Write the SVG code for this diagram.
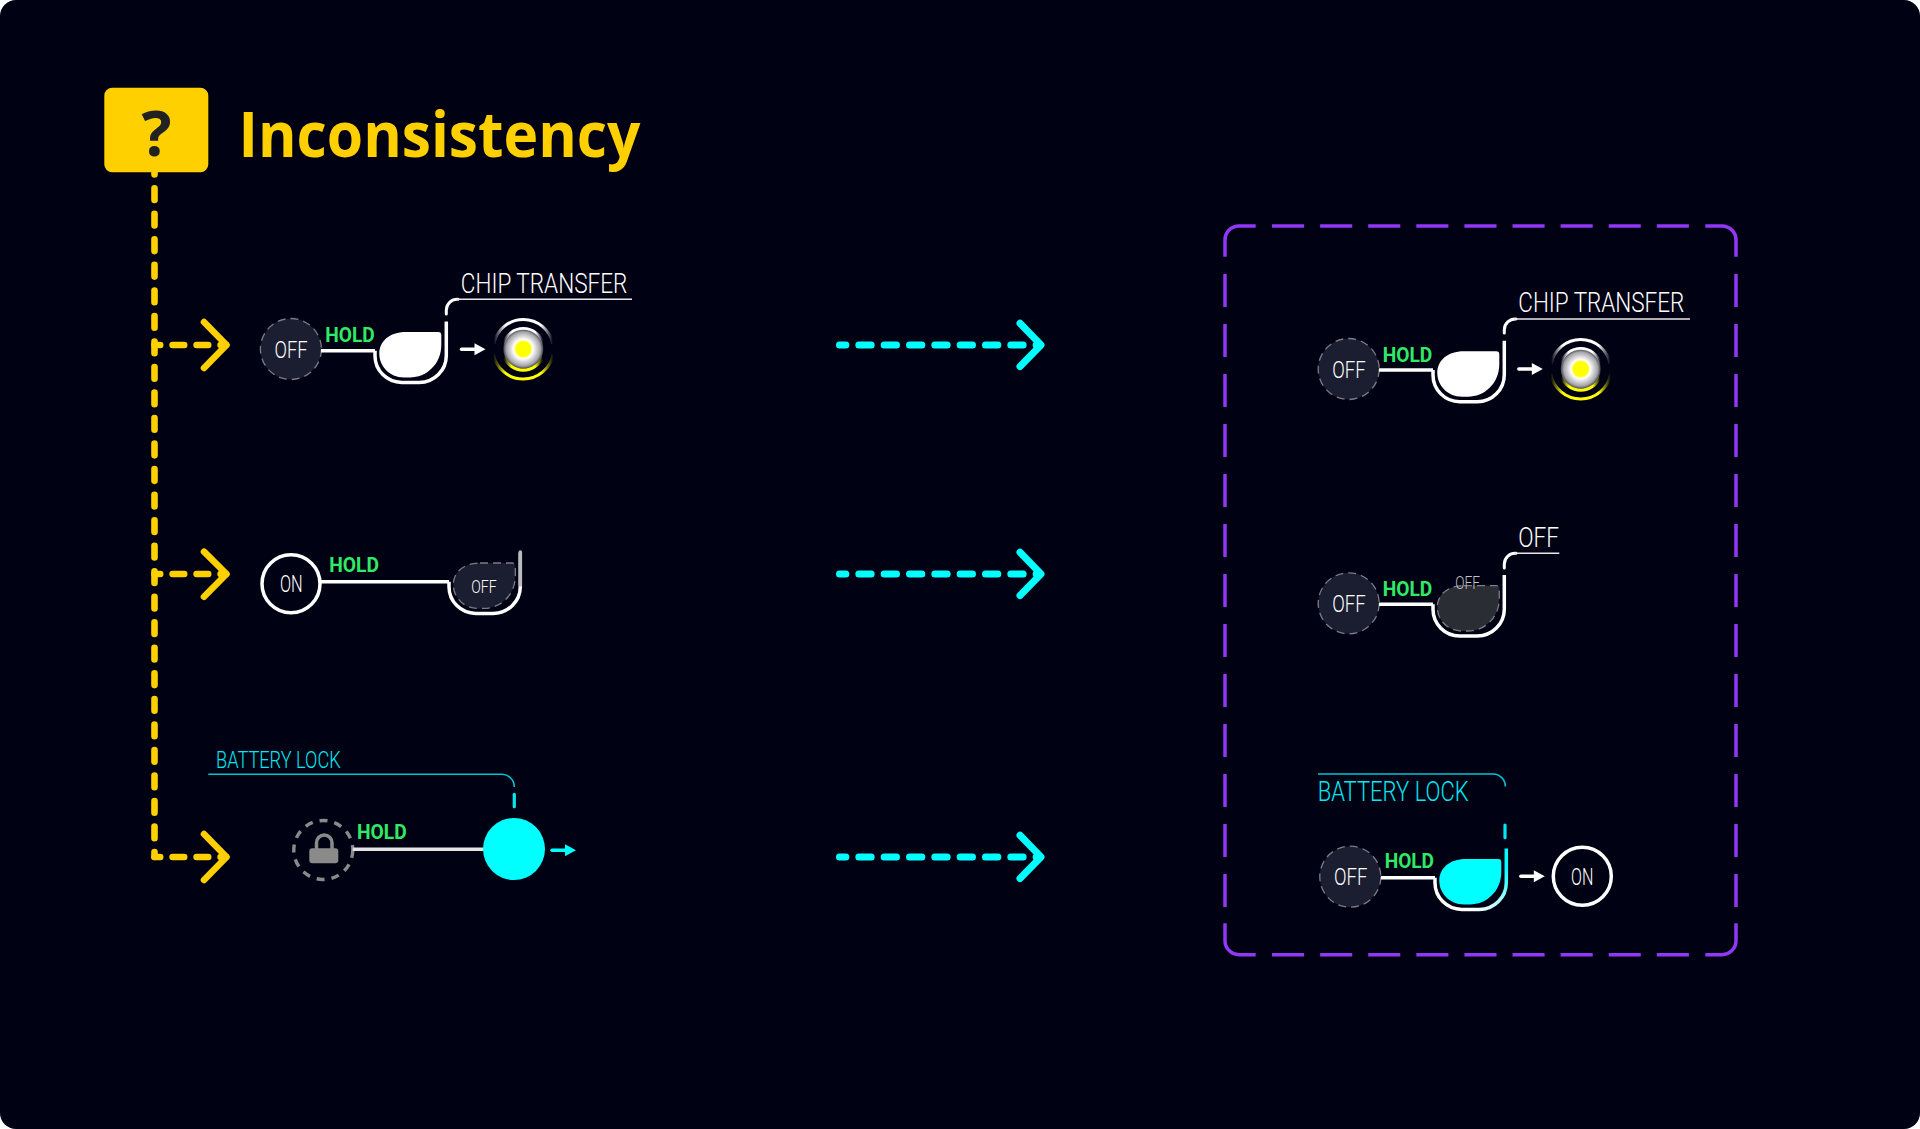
<svg xmlns="http://www.w3.org/2000/svg" width="1920" height="1129" viewBox="0 0 1920 1129">
<style>
text{font-family:Roboto,"Liberation Sans",sans-serif}
.lbl{font-weight:300;fill:#fff}
.hold{font-weight:700;font-size:20px;fill:#30ea66}
.cy{fill:#00e8f0}
.y{fill:none;stroke:#ffd000;stroke-width:6.6;stroke-linecap:round;stroke-linejoin:round}
.yd{stroke-dasharray:11.6 12.4;stroke-dashoffset:5.9}
.c{fill:none;stroke:#00ffff;stroke-width:7;stroke-linecap:round;stroke-linejoin:round}
.cd{stroke-dasharray:12.33 13;stroke-dashoffset:6}
.pb{fill:none;stroke:#9137f5;stroke-width:3.5}
.pd1{stroke-dasharray:32.1 16}
.pd2{stroke-dasharray:33 17}
.w{fill:none;stroke:#fff;stroke-width:3.5}
.wt{fill:none;stroke:#e8e8e8;stroke-width:1.6}
.curve{fill:none;stroke:#fff;stroke-width:3;stroke-linecap:round}
.ct{fill:none;stroke:#00c4d0;stroke-width:1.6}
.cdash{fill:none;stroke:#00e8f0;stroke-width:3.2;stroke-linecap:round}
.off{fill:#1a1e30;stroke:#7c7c86;stroke-width:1.3;stroke-dasharray:8 5}
.on{fill:#010114;stroke:#fff;stroke-width:3.5}
</style>
<defs>
<path id="u" d="M0 0V5A26.7 26.7 0 0 0 26.7 31.7H44.3A27 27 0 0 0 71.3 4.7V-29.3"/>
<path id="th" d="M31 -18.7H63.3a3 3 0 0 1 3 3V-6C66.3 14 51 26.7 35 26.7H29C14 26.7 4.3 15 4.3 3C4.3 -9 14 -18.7 31 -18.7Z"/>
<g id="arw"><path d="M1.5 0H15" fill="none" stroke="currentColor" stroke-width="3.4" stroke-linecap="round"/><path d="M14.5 -6L25.5 0L14.5 6Z" fill="currentColor"/></g>
<radialGradient id="core"><stop offset="0.36" stop-color="#ff0"/><stop offset="0.48" stop-color="#fff"/><stop offset="0.85" stop-color="#a4a4aa"/><stop offset="1" stop-color="#40404a"/></radialGradient>
<linearGradient id="fw" x1="0" x2="1" y1="0" y2="0"><stop offset="0" stop-color="#fff" stop-opacity="0"/><stop offset="0.2" stop-color="#fff"/><stop offset="0.8" stop-color="#fff"/><stop offset="1" stop-color="#fff" stop-opacity="0"/></linearGradient>
<linearGradient id="fy" x1="0" x2="1" y1="0" y2="0"><stop offset="0" stop-color="#ff0" stop-opacity="0"/><stop offset="0.2" stop-color="#ff0"/><stop offset="0.8" stop-color="#ff0"/><stop offset="1" stop-color="#ff0" stop-opacity="0"/></linearGradient>
<linearGradient id="uc" gradientUnits="userSpaceOnUse" x1="35" y1="32" x2="72" y2="-10"><stop offset="0" stop-color="#fff"/><stop offset="0.5" stop-color="#aff"/><stop offset="1" stop-color="#0ff"/></linearGradient>
<g id="led">
<circle r="20" fill="url(#core)"/>
<path d="M-20 -5A20.6 20.6 0 0 1 20 -5" fill="none" stroke="url(#fw)" stroke-width="2.6"/>
<path d="M-19.5 8A21 21 0 0 0 19.5 8" fill="none" stroke="url(#fy)" stroke-width="3"/>
<path d="M-29.5 -5A30 30 0 0 1 29.5 -5" fill="none" stroke="url(#fw)" stroke-width="3"/>
<path d="M-30 5A30.5 30.5 0 0 0 30 5" fill="none" stroke="url(#fy)" stroke-width="3"/>
</g>
</defs>
<rect width="1920" height="1129" fill="#fff"/>
<rect id="background" width="1920" height="1129" rx="16" fill="#010114"/>

<g id="connectors">
<path class="y" stroke-dasharray="11.7 13.83" d="M154.5 162.8V857"/>
<path class="y yd" d="M154.5 345H226"/><path class="y" d="M204 322L226.5 345L204 368"/>
<path class="y yd" d="M154.5 574H226"/><path class="y" d="M204 551.7L226.5 574L204 596.7"/>
<path class="y yd" d="M154.5 857H226"/><path class="y" d="M204 834L226.5 857L204 880"/>
<path class="c cd" d="M839.5 345H1040"/><path class="c" d="M1020 323.3L1041 345L1020 366.5"/>
<path class="c cd" d="M839.5 574H1040"/><path class="c" d="M1020 552.3L1041 574L1020 595.5"/>
<path class="c cd" d="M839.5 857H1040"/><path class="c" d="M1020 835.3L1041 857L1020 878.5"/>
</g>

<g id="header">
<rect x="104.3" y="87.7" width="104" height="84.6" rx="8" fill="#ffd000"/>
<text x="156.5" y="156" font-size="63" font-weight="700" text-anchor="middle" fill="#222" style="font-family:'Open Sans',sans-serif">?</text>
<text x="238.5" y="157" font-size="63" font-weight="700" fill="#ffd000" textLength="402" lengthAdjust="spacingAndGlyphs" style="font-family:'Open Sans',sans-serif">Inconsistency</text>
</g>

<g id="frame">
<path class="pb" d="M1225 256.7V240A14 14 0 0 1 1239 226H1255.7"/>
<path class="pb" d="M1705.3 226H1722A14 14 0 0 1 1736 240V256.7"/>
<path class="pb" d="M1225 923.3V940.7A14 14 0 0 0 1239 954.7H1255.7"/>
<path class="pb" d="M1705.3 954.7H1722A14 14 0 0 0 1736 940.7V923.3"/>
<path class="pb pd1" d="M1272 226H1690"/>
<path class="pb pd1" d="M1272 954.7H1690"/>
<path class="pb pd2" d="M1225 274V907"/>
<path class="pb pd2" d="M1736 274V907"/>
</g>

<g id="left-chip">
<circle class="off" cx="290.9" cy="349" r="30.5"/>
<text class="lbl" x="274.5" y="357.7" font-size="23.5" textLength="33" lengthAdjust="spacingAndGlyphs">OFF</text>
<text class="hold" x="325.3" y="341.7" textLength="49.5" lengthAdjust="spacingAndGlyphs">HOLD</text>
<path class="w" d="M321 350.7H375"/>
<g transform="translate(375 350.7)"><use href="#u" class="w"/><use href="#th" fill="#fff"/></g>
<path class="curve" d="M446.3 314V310A11 11 0 0 1 458 299.3"/>
<path class="wt" d="M456 299.3H632"/>
<text class="lbl" x="460.8" y="292.7" font-size="27" textLength="166.5" lengthAdjust="spacingAndGlyphs">CHIP TRANSFER</text>
<use href="#arw" x="460" y="349.3" color="#fff"/>
<use href="#led" x="523.3" y="349"/>
</g>

<g id="left-off">
<circle class="on" cx="291" cy="583.7" r="29"/>
<text class="lbl" x="280" y="592.3" font-size="23.5" textLength="22.7" lengthAdjust="spacingAndGlyphs">ON</text>
<text class="hold" x="329.3" y="572.3" textLength="49.7" lengthAdjust="spacingAndGlyphs">HOLD</text>
<path class="w" d="M320 581.7H449"/>
<g transform="translate(449 581.7)"><use href="#u" class="w"/><use href="#th" class="off"/></g>
<path d="M520.3 552V585" fill="none" stroke="#bbb" stroke-width="3.5" stroke-linecap="round"/>
<text class="lbl" x="471.3" y="592.7" font-size="18" textLength="25.4" lengthAdjust="spacingAndGlyphs">OFF</text>
</g>

<g id="left-lock">
<circle cx="323.3" cy="850" r="29.5" fill="none" stroke="#8a8a8a" stroke-width="3.4" stroke-dasharray="8 7"/>
<rect x="309.3" y="848.3" width="29" height="15" rx="3" fill="#8a8a8a"/>
<path d="M316.5 849V843A7.7 8 0 0 1 332 843V849" fill="none" stroke="#8a8a8a" stroke-width="3.5"/>
<text class="hold" x="357" y="839.3" textLength="49.7" lengthAdjust="spacingAndGlyphs">HOLD</text>
<path d="M352.7 849.3H490" fill="none" stroke="#e4e4e4" stroke-width="3.5"/>
<circle cx="514" cy="849" r="31" fill="#0ff"/>
<use href="#arw" x="550.5" y="850.3" color="#0ff"/>
<path class="ct" d="M208.3 774.3H501.7A12.6 12.6 0 0 1 514.3 786.9"/>
<path class="cdash" d="M514.3 794.3V806.7"/>
<text class="lbl cy" x="216" y="768.3" font-size="23.5" textLength="124.7" lengthAdjust="spacingAndGlyphs">BATTERY LOCK</text>
</g>

<g id="right-chip">
<circle class="off" cx="1348.7" cy="369" r="30.5"/>
<text class="lbl" x="1332.3" y="377.7" font-size="23.5" textLength="33.4" lengthAdjust="spacingAndGlyphs">OFF</text>
<text class="hold" x="1382.7" y="361.7" textLength="49.6" lengthAdjust="spacingAndGlyphs">HOLD</text>
<path class="w" d="M1379 370H1433"/>
<g transform="translate(1433 370)"><use href="#u" class="w"/><use href="#th" fill="#fff"/></g>
<path class="curve" d="M1504.3 333V330A11 11 0 0 1 1516 319"/>
<path class="wt" d="M1514 319H1690"/>
<text class="lbl" x="1518.3" y="311.7" font-size="27" textLength="166" lengthAdjust="spacingAndGlyphs">CHIP TRANSFER</text>
<use href="#arw" x="1517.3" y="369" color="#fff"/>
<use href="#led" x="1580.7" y="369"/>
</g>

<g id="right-off">
<circle class="off" cx="1348.7" cy="603.3" r="30.5"/>
<text class="lbl" x="1332.3" y="612.3" font-size="23.5" textLength="33.4" lengthAdjust="spacingAndGlyphs">OFF</text>
<text class="hold" x="1382.7" y="595.7" textLength="49.6" lengthAdjust="spacingAndGlyphs">HOLD</text>
<path class="w" d="M1379 604.3H1433"/>
<g transform="translate(1433 604.3)"><use href="#u" class="w"/><use href="#th" class="off" style="fill:#2a2d33"/></g>
<text class="lbl" x="1455.3" y="589.3" font-size="18" textLength="24.7" lengthAdjust="spacingAndGlyphs" style="fill:#c4c4c4">OFF</text>
<path class="curve" d="M1504.3 568V564A11 11 0 0 1 1516 553.3"/>
<path class="wt" d="M1514 553.3H1559.3"/>
<text class="lbl" x="1518.3" y="546.7" font-size="27" textLength="40.7" lengthAdjust="spacingAndGlyphs">OFF</text>
</g>

<g id="right-on">
<circle class="off" cx="1350.3" cy="876.7" r="30.5"/>
<text class="lbl" x="1334" y="885" font-size="23.5" textLength="33.3" lengthAdjust="spacingAndGlyphs">OFF</text>
<text class="hold" x="1384.7" y="868.3" textLength="49.3" lengthAdjust="spacingAndGlyphs">HOLD</text>
<path class="w" d="M1381 877.7H1435"/>
<g transform="translate(1435 877.7)"><use href="#u" class="w" style="stroke:url(#uc)"/><use href="#th" fill="#0ff"/></g>
<use href="#arw" x="1519.3" y="876.3" color="#fff"/>
<circle class="on" cx="1582.3" cy="876.3" r="29"/>
<text class="lbl" x="1571" y="884.5" font-size="23.5" textLength="22.3" lengthAdjust="spacingAndGlyphs">ON</text>
<path class="ct" d="M1318 774H1493A12.3 12.3 0 0 1 1505.3 786.5"/>
<path class="cdash" d="M1505 825V837.7"/>
<text class="lbl cy" x="1317.7" y="800.7" font-size="28" textLength="151" lengthAdjust="spacingAndGlyphs">BATTERY LOCK</text>
</g>
</svg>
